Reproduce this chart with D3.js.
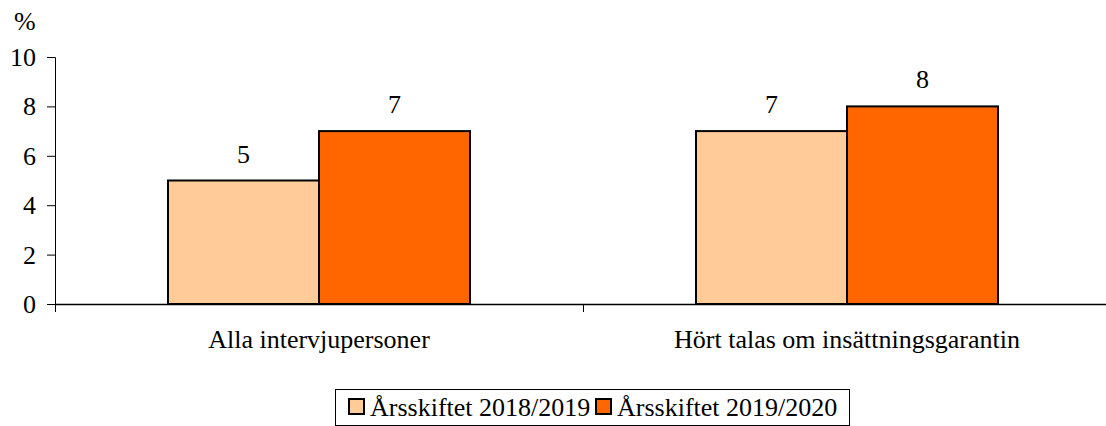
<!DOCTYPE html>
<html>
<head>
<meta charset="utf-8">
<script src="https://cdn.jsdelivr.net/npm/d3@7"></script>
<style>
	body { margin: 0; background: #fff; }
</style>
</head>
<body>
<div id="chart"></div>
<script>
// chart data
var categories = ["Alla intervjupersoner", "Hört talas om insättningsgarantin"];
var seriesNames = ["Årsskiftet 2018/2019", "Årsskiftet 2019/2020"];
var series2019 = [5, 7];
var series2020 = [7, 8];
var yTicks = [0, 2, 4, 6, 8, 10];
var colors = ["#FFCC99", "#FF6600"];

var fontFamily = "Liberation Serif";
var fontSize = "26px";

var width = 1106, height = 426;
var margin = { top: 57, left: 55 };
var plotW = 1111 - margin.left;
var plotH = 304 - margin.top;

var svg = d3.select("#chart").append("svg")
	.attr("width", width)
	.attr("height", height);

var x = d3.scaleBand().domain(categories).range([0, plotW]);
var y = d3.scaleLinear().domain([0, 10]).range([plotH, 0]);

var g = svg.append("g")
	.attr("transform", "translate(" + margin.left + "," + margin.top + ")");

// y axis
var yAxis = d3.axisLeft(y).tickValues(yTicks).tickSize(8).tickPadding(11);
g.append("g").call(yAxis)
	.call(function(a) {
		a.select(".domain").attr("stroke", "#000");
		a.selectAll(".tick line").attr("stroke", "#000");
		a.selectAll(".tick text")
			.attr("fill", "#000")
			.attr("dy", "0.33em")
			.style("font-size", fontSize)
			.style("font-family", fontFamily);
	});

// x axis with ticks between categories
g.append("line")
	.attr("x1", 0).attr("x2", plotW)
	.attr("y1", plotH + 0.5).attr("y2", plotH + 0.5)
	.attr("stroke", "#000").attr("stroke-width", 1.5);
var boundaries = [0, x.bandwidth()];
g.selectAll(".xtick").data(boundaries).enter().append("line")
	.attr("x1", function(d) { return Math.round(d) + 0.5; })
	.attr("x2", function(d) { return Math.round(d) + 0.5; })
	.attr("y1", plotH).attr("y2", plotH + 8)
	.attr("stroke", "#000");
g.selectAll(".xlabel").data(categories).enter().append("text")
	.attr("x", function(d) { return x(d) + x.bandwidth() / 2; })
	.attr("y", plotH + 44)
	.attr("text-anchor", "middle")
	.style("font-family", fontFamily)
	.style("font-size", fontSize)
	.text(function(d) { return d; });

// % label
svg.append("text")
	.attr("x", 14).attr("y", 30)
	.style("font-family", fontFamily)
	.style("font-size", fontSize)
	.text("%");

// bars
var inner = d3.scaleBand().domain([0, 1]).range([113, 113 + 302]);
var data = [];
categories.forEach(function(c, i) {
	data.push({ cat: c, s: 0, v: series2019[i] });
	data.push({ cat: c, s: 1, v: series2020[i] });
});

g.selectAll(".bar").data(data).enter().append("rect")
	.attr("x", function(d) { return x(d.cat) + inner(d.s); })
	.attr("y", function(d) { return y(d.v); })
	.attr("width", inner.bandwidth())
	.attr("height", function(d) { return plotH - y(d.v); })
	.attr("fill", function(d) { return colors[d.s]; })
	.attr("stroke", "#000")
	.attr("stroke-width", 2);

g.selectAll(".val").data(data).enter().append("text")
	.attr("x", function(d) { return x(d.cat) + inner(d.s) + inner.bandwidth() / 2; })
	.attr("y", function(d) { return y(d.v) - 18; })
	.attr("text-anchor", "middle")
	.style("font-family", fontFamily)
	.style("font-size", fontSize)
	.text(function(d) { return d.v; });

// legend
var legend = svg.append("g");
legend.append("rect")
	.attr("x", 335.5).attr("y", 389.5)
	.attr("width", 514).attr("height", 36)
	.attr("fill", "#fff").attr("stroke", "#000");
var legX = [349, 596];
seriesNames.forEach(function(n, i) {
	legend.append("rect")
		.attr("x", legX[i]).attr("y", 399)
		.attr("width", 15).attr("height", 15)
		.attr("fill", colors[i]).attr("stroke", "#000").attr("stroke-width", 2);
	legend.append("text")
		.attr("x", legX[i] + 21).attr("y", 416)
		.style("font-family", fontFamily)
		.style("font-size", fontSize)
		.text(n);
});
</script>
</body>
</html>
